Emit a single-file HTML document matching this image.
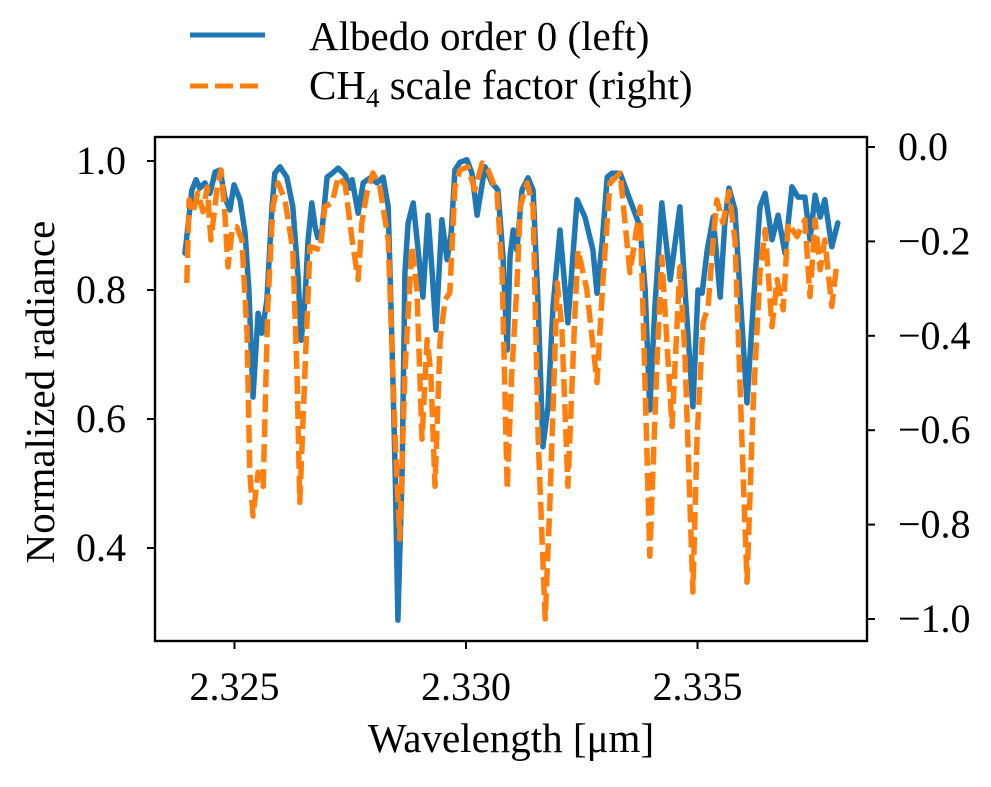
<!DOCTYPE html>
<html><head><meta charset="utf-8"><style>
html,body{margin:0;padding:0;background:#fff;}
svg text{font-family:"Liberation Serif",serif;fill:#000;}
</style></head><body>
<svg id="chart" width="991" height="782" viewBox="0 0 991 782">
<g id="legend">
<line x1="190" y1="35" x2="265" y2="35" stroke="#1f77b4" stroke-width="5"/>
<text x="309" y="50" font-size="41">Albedo order 0 (left)</text>
<line x1="190" y1="86" x2="265" y2="86" stroke="#ff7f0e" stroke-width="5" stroke-dasharray="18,7"/>
<text x="309" y="99" font-size="41">CH<tspan font-size="27" dy="8">4</tspan><tspan dy="-8"> scale factor (right)</tspan></text>
</g>
<g id="marks"></g>
<rect x="155" y="137" width="712" height="504" fill="none" stroke="#000" stroke-width="2.4"/>
<g id="axes"></g>
<text x="511" y="752" font-size="41" text-anchor="middle">Wavelength [μm]</text>
<text transform="translate(54,392) rotate(-90)" font-size="41" text-anchor="middle">Normalized radiance</text>
</svg>
<script>
const wlBlue=[2.32393,2.32408,2.32417,2.32425,2.32436,2.32447,2.32458,2.32469,2.32479,2.32490,2.32499,2.32512,2.32523,2.32531,2.32540,2.32551,2.32559,2.32570,2.32581,2.32587,2.32598,2.32613,2.32626,2.32637,2.32644,2.32652,2.32659,2.32667,2.32674,2.32680,2.32689,2.32700,2.32711,2.32724,2.32739,2.32749,2.32754,2.32767,2.32778,2.32793,2.32808,2.32821,2.32832,2.32840,2.32847,2.32853,2.32862,2.32868,2.32875,2.32886,2.32896,2.32907,2.32918,2.32927,2.32935,2.32948,2.32959,2.32968,2.32976,2.32987,2.33002,2.33013,2.33024,2.33041,2.33056,2.33069,2.33080,2.33089,2.33095,2.33102,2.33110,2.33121,2.33134,2.33145,2.33156,2.33166,2.33177,2.33188,2.33203,2.33220,2.33240,2.33257,2.33274,2.33283,2.33294,2.33305,2.33315,2.33333,2.33354,2.33376,2.33387,2.33397,2.33408,2.33423,2.33441,2.33462,2.33473,2.33490,2.33501,2.33510,2.33521,2.33534,2.33549,2.33559,2.33568,2.33581,2.33596,2.33607,2.33620,2.33635,2.33646,2.33661,2.33674,2.33689,2.33704,2.33717,2.33732,2.33743,2.33754,2.33765,2.33775,2.33790,2.33803];
const albedo=[0.857,0.955,0.971,0.958,0.966,0.950,0.983,0.986,0.944,0.924,0.963,0.940,0.888,0.800,0.634,0.764,0.733,0.784,0.929,0.981,0.991,0.975,0.929,0.826,0.722,0.784,0.878,0.935,0.898,0.881,0.893,0.975,0.981,0.989,0.978,0.958,0.971,0.919,0.966,0.974,0.966,0.975,0.929,0.722,0.516,0.288,0.516,0.826,0.904,0.935,0.867,0.789,0.916,0.826,0.738,0.909,0.847,0.888,0.986,0.998,1.002,0.981,0.916,0.991,0.966,0.955,0.851,0.707,0.851,0.893,0.862,0.955,0.974,0.955,0.774,0.557,0.619,0.774,0.893,0.749,0.940,0.913,0.862,0.795,0.873,0.975,0.981,0.981,0.940,0.898,0.800,0.614,0.774,0.935,0.816,0.929,0.800,0.619,0.800,0.795,0.862,0.913,0.789,0.904,0.958,0.924,0.749,0.625,0.774,0.929,0.950,0.878,0.916,0.857,0.960,0.944,0.944,0.878,0.947,0.913,0.940,0.867,0.904];
const wlOrange=[2.32397,2.32402,2.32410,2.32421,2.32432,2.32441,2.32449,2.32462,2.32471,2.32479,2.32486,2.32495,2.32505,2.32516,2.32527,2.32533,2.32540,2.32551,2.32562,2.32572,2.32583,2.32594,2.32609,2.32626,2.32635,2.32641,2.32652,2.32663,2.32674,2.32685,2.32695,2.32711,2.32724,2.32739,2.32754,2.32767,2.32775,2.32786,2.32799,2.32814,2.32832,2.32847,2.32857,2.32868,2.32883,2.32894,2.32905,2.32916,2.32924,2.32933,2.32944,2.32955,2.32965,2.32976,2.32987,2.33004,2.33019,2.33035,2.33048,2.33067,2.33078,2.33089,2.33099,2.33110,2.33117,2.33132,2.33145,2.33156,2.33171,2.33181,2.33197,2.33207,2.33220,2.33235,2.33242,2.33261,2.33283,2.33296,2.33311,2.33333,2.33354,2.33376,2.33382,2.33397,2.33413,2.33423,2.33445,2.33462,2.33473,2.33490,2.33499,2.33512,2.33523,2.33534,2.33542,2.33555,2.33568,2.33581,2.33596,2.33607,2.33620,2.33635,2.33646,2.33661,2.33672,2.33685,2.33696,2.33715,2.33732,2.33743,2.33754,2.33765,2.33775,2.33790,2.33801];
const ch4=[-0.288,-0.112,-0.140,-0.097,-0.137,-0.085,-0.197,-0.091,-0.049,-0.140,-0.254,-0.175,-0.169,-0.197,-0.393,-0.689,-0.782,-0.689,-0.719,-0.338,-0.127,-0.076,-0.112,-0.218,-0.478,-0.753,-0.478,-0.211,-0.214,-0.218,-0.127,-0.118,-0.063,-0.080,-0.197,-0.281,-0.161,-0.097,-0.055,-0.085,-0.197,-0.619,-0.831,-0.478,-0.211,-0.302,-0.619,-0.408,-0.478,-0.719,-0.408,-0.323,-0.309,-0.085,-0.049,-0.042,-0.091,-0.034,-0.049,-0.097,-0.266,-0.725,-0.478,-0.296,-0.127,-0.076,-0.127,-0.619,-1.000,-0.761,-0.288,-0.381,-0.719,-0.359,-0.218,-0.302,-0.499,-0.281,-0.076,-0.055,-0.266,-0.127,-0.338,-0.867,-0.444,-0.233,-0.592,-0.254,-0.444,-0.943,-0.619,-0.372,-0.338,-0.197,-0.112,-0.161,-0.095,-0.197,-0.619,-0.922,-0.550,-0.266,-0.175,-0.381,-0.281,-0.345,-0.161,-0.190,-0.154,-0.317,-0.154,-0.260,-0.197,-0.338,-0.245];
const xTicks=[2.325,2.330,2.335];
const xTickLabels=["2.325","2.330","2.335"];
const yLeftTicks=[0.4,0.6,0.8,1.0];
const yLeftLabels=["0.4","0.6","0.8","1.0"];
const yRightTicks=[-1.0,-0.8,-0.6,-0.4,-0.2,0.0];
const yRightLabels=["\u22121.0","\u22120.8","\u22120.6","\u22120.4","\u22120.2","0.0"];

const NS="http://www.w3.org/2000/svg";
const X=w=>466+(w-2.330)*46300;
const YL=v=>161+(1-v)*645;
const YR=v=>147-v*472;
function mk(tag,attrs,parent){const e=document.createElementNS(NS,tag);for(const k in attrs)e.setAttribute(k,attrs[k]);parent.appendChild(e);return e;}
const marks=document.getElementById('marks');
const axes=document.getElementById('axes');
let d=wlBlue.map((w,i)=>(i?'L':'M')+X(w).toFixed(1)+','+YL(albedo[i]).toFixed(1)).join('');
const pb=mk('path',{d:d,fill:'none',stroke:'#1f77b4','stroke-width':5.5,'stroke-linejoin':'round','stroke-linecap':'round'},marks);


d=wlOrange.map((w,i)=>(i?'L':'M')+X(w).toFixed(1)+','+YR(ch4[i]).toFixed(1)).join('');
const po=mk('path',{d:d,fill:'none',stroke:'#ff7f0e','stroke-width':5.5,'stroke-dasharray':'18,7','stroke-linejoin':'round'},marks);


xTicks.forEach((t,i)=>{const x=X(t);
 const l=mk('line',{x1:x,y1:641,x2:x,y2:649,stroke:'#000','stroke-width':2},axes);
 
 
 const tx=mk('text',{x:x,y:700,'font-size':40,'text-anchor':'middle'},axes);tx.textContent=xTickLabels[i];
 
 });
yLeftTicks.forEach((t,i)=>{const y=YL(t);
 const l=mk('line',{x1:147,y1:y,x2:155,y2:y,stroke:'#000','stroke-width':2},axes);
 
 
 const tx=mk('text',{x:126,y:y+13,'font-size':40,'text-anchor':'end'},axes);tx.textContent=yLeftLabels[i];
 
 });
yRightTicks.forEach((t,i)=>{const y=YR(t);
 const l=mk('line',{x1:867,y1:y,x2:875,y2:y,stroke:'#000','stroke-width':2},axes);
 
 
 const tx=mk('text',{x:898,y:y+13,'font-size':40,'text-anchor':'start'},axes);tx.textContent=yRightLabels[i];
 
 });
</script>
</body></html>
